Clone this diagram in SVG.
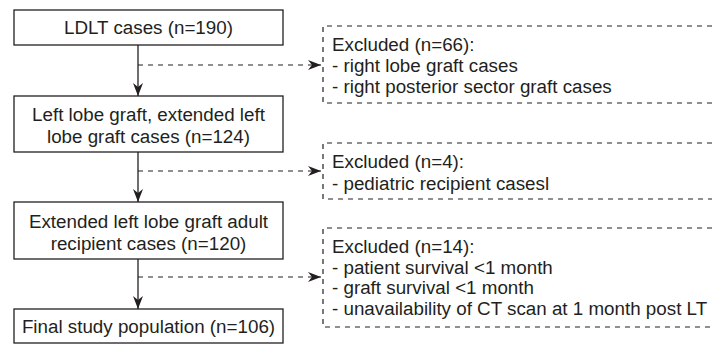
<svg xmlns="http://www.w3.org/2000/svg" width="712" height="344" viewBox="0 0 712 344">
<defs>
<marker id="ah" markerUnits="userSpaceOnUse" markerWidth="14" markerHeight="12" viewBox="-13 -6 14 12" refX="0" refY="0" orient="auto">
<path d="M0,0 L-13,-5 L-9,0 L-13,5 Z" fill="#231f20"/>
</marker>
</defs>
<style>
rect.box{fill:#fff;stroke:#231f20;stroke-width:1.3}
path.dbox{fill:none;stroke:#231f20;stroke-width:1.2;stroke-dasharray:5 5}
text{font-family:"Liberation Sans",Arial,sans-serif;font-size:18.8px;fill:#231f20}
text.c{text-anchor:middle}
line.solid{stroke:#231f20;stroke-width:1.3}
line.dash{stroke:#231f20;stroke-width:1.2;stroke-dasharray:5 5}
</style>
<g id="connectors">
<line class="solid" x1="138" y1="45" x2="138" y2="96" marker-end="url(#ah)"/>
<line class="solid" x1="138" y1="152" x2="138" y2="202" marker-end="url(#ah)"/>
<line class="solid" x1="138" y1="259" x2="138" y2="309" marker-end="url(#ah)"/>
<line class="dash" x1="138" y1="65" x2="321" y2="65" marker-end="url(#ah)"/>
<line class="dash" x1="138" y1="171" x2="321" y2="171" marker-end="url(#ah)"/>
<line class="dash" x1="138" y1="277" x2="321" y2="277" marker-end="url(#ah)"/>
</g>
<g id="n1">
<rect class="box" x="14" y="10" width="269" height="35"/>
<text class="c" x="148.5" y="34">LDLT cases (n=190)</text>
</g>
<g id="n2">
<rect class="box" x="14" y="96" width="269" height="56"/>
<text class="c" x="148.5" y="121">Left lobe graft, extended left</text>
<text class="c" x="148.5" y="143">lobe graft cases (n=124)</text>
</g>
<g id="n3">
<rect class="box" x="14" y="202" width="269" height="57"/>
<text class="c" x="148.5" y="228">Extended left lobe graft adult</text>
<text class="c" x="148.5" y="250">recipient cases (n=120)</text>
</g>
<g id="n4">
<rect class="box" x="14" y="309" width="269" height="34"/>
<text class="c" x="148.5" y="333">Final study population (n=106)</text>
</g>
<g id="e1">
<path class="dbox" d="M712,26 H323 V103 H712"/>
<text x="332" y="51">Excluded (n=66):</text>
<text x="332" y="72">- right lobe graft cases</text>
<text x="332" y="93">- right posterior sector graft cases</text>
</g>
<g id="e2">
<path class="dbox" d="M712,143 H323 V199 H712"/>
<text x="332" y="168">Excluded (n=4):</text>
<text x="332" y="190">- pediatric recipient casesl</text>
</g>
<g id="e3">
<path class="dbox" d="M712,228 H323 V327 H712"/>
<text x="332" y="253">Excluded (n=14):</text>
<text x="332" y="274">- patient survival &lt;1 month</text>
<text x="332" y="294">- graft survival &lt;1 month</text>
<text x="332" y="315">- unavailability of CT scan at 1 month post LT</text>
</g>
</svg>
